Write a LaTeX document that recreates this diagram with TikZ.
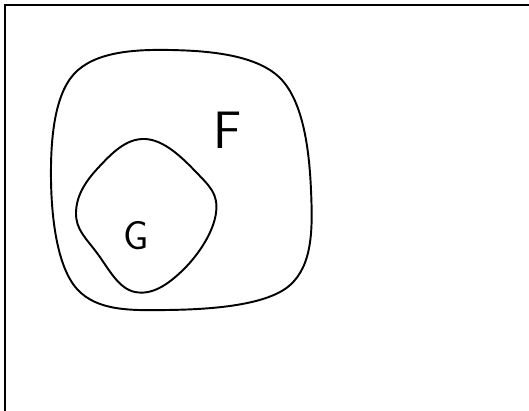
\documentclass[tikz,border=0pt]{standalone}
\usepackage{tikz}
\usetikzlibrary{positioning}

\begin{document}
\begin{tikzpicture}[
  x=0.02cm, y=-0.02cm,
  frame/.style={line width=1.4pt},
  blob/.style={line width=1.1pt, line join=round},
  setname/.style={font=\sffamily, inner sep=0pt}
]
  \useasboundingbox (0,0) rectangle (529,411);
  \draw[frame] (5,411) -- (5,5) -- (529,5);

  % outer set F
  \draw[blob] plot[smooth cycle, tension=0.62] coordinates {
    (170,50) (280,78) (311,190) (289,286) (168,310) (77,289) (51,180) (74,74)};
  % inner set G
  \draw[blob] plot[smooth cycle, tension=0.7] coordinates {
    (145,139) (196,172) (216,213) (183,270) (135,292) (97,253) (76,213) (98,168)};

  \node[setname, font=\sffamily\fontsize{30}{30}\selectfont] (fset) at (228,130) {F};
  \node[setname, font=\sffamily\fontsize{23}{23}\selectfont] (gset) at (136,236) {G};
\end{tikzpicture}
\end{document}
